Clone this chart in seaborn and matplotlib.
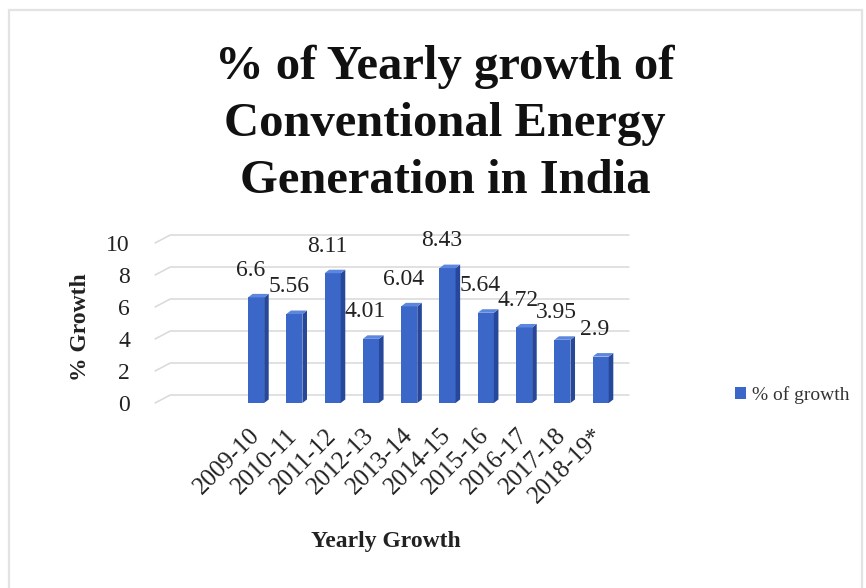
import matplotlib
matplotlib.use("Agg")
import matplotlib.pyplot as plt
from matplotlib.patches import Polygon, Patch, FancyBboxPatch
from matplotlib.lines import Line2D
import seaborn as sns
import pandas as pd

# Data
years = ["2009-10", "2010-11", "2011-12", "2012-13", "2013-14",
         "2014-15", "2015-16", "2016-17", "2017-18", "2018-19*"]
growth = [6.6, 5.56, 8.11, 4.01, 6.04, 8.43, 5.64, 4.72, 3.95, 2.9]
series_name = "% of growth"
y_ticks = [0, 2, 4, 6, 8, 10]

title_text = "% of Yearly growth of\nConventional Energy\nGeneration in India"
x_title = "Yearly Growth"
y_title = "% Growth"

# Colours for the column faces
front = "#3b67c9"
side = "#27489a"
top = "#5d86dd"
grid_col = "#d9d9d9"

sns.set_theme(style="white")
plt.rcParams["font.family"] = ["Liberation Serif", "DejaVu Serif"]

W, H = 866, 588
fig = plt.figure(figsize=(W / 100, H / 100), dpi=100)
fig.patch.set_facecolor("white")

# chart outline (open at the bottom)
fig.add_artist(FancyBboxPatch((9 / W, -0.05), 853 / W, (H - 10) / H + 0.05,
                              boxstyle="square,pad=0", transform=fig.transFigure,
                              facecolor="none", edgecolor="#e3e3e3", lw=1.6))

ax = fig.add_axes([155 / W, (H - 403) / H, 474 / W, 160 / H])
df = pd.DataFrame({"year": years, "growth": growth})
sns.barplot(data=df, x="year", y="growth", color=front, width=0.42,
            saturation=1, ax=ax, zorder=3, linewidth=0)

xl, xr = -2.64, 9.74
ax.set_xlim(xl, xr)
ax.set_ylim(0, 10)

# back-wall gridlines with the short perspective run at the left
slant_dx, lift = 0.4, 0.5
for t in y_ticks:
    ax.add_line(Line2D([xl, xl + slant_dx, xr], [t, t + lift, t + lift],
                       color=grid_col, lw=1.1, zorder=1, clip_on=False))

# side and top faces give the columns depth
dx, dy = 0.12, 0.22
for p in list(ax.patches):
    x0, w, h = p.get_x(), p.get_width(), p.get_height()
    ax.add_patch(Polygon([(x0 + w, 0), (x0 + w + dx, dy), (x0 + w + dx, h + dy), (x0 + w, h)],
                         closed=True, facecolor=side, edgecolor="none", zorder=3, clip_on=False))
    ax.add_patch(Polygon([(x0, h), (x0 + dx, h + dy), (x0 + w + dx, h + dy), (x0 + w, h)],
                         closed=True, facecolor=top, edgecolor="none", zorder=3, clip_on=False))

# value labels
for i, v in enumerate(growth):
    ax.text(i - 0.15, v + 1.7, f"{v:g}", ha="center", va="center",
            fontsize=17, color="#222222", zorder=5, clip_on=False)

for s in ax.spines.values():
    s.set_visible(False)
ax.set_facecolor("none")
ax.set_yticks(y_ticks)
ax.set_yticklabels([str(t) for t in y_ticks], fontsize=17, color="#222222")
ax.tick_params(axis="y", length=0, pad=18)
ax.tick_params(axis="x", length=0, pad=21)
ax.set_xticks(range(len(years)))
ax.set_xticklabels(years, rotation=45, ha="right", va="center",
                   rotation_mode="anchor", fontsize=18, color="#222222")
ax.set_xlabel("")
ax.set_ylabel("")

# titles
fig.text(445 / W, 1 - 45 / H, title_text, ha="center", va="top", fontsize=35,
         fontweight="bold", linespacing=1.38, color="#111111")
fig.text(386 / W, 1 - 541 / H, x_title, ha="center", va="center", fontsize=17,
         fontweight="bold", color="#222222")
fig.text(81 / W, 1 - 327 / H, y_title, ha="center", va="center", rotation=90,
         fontsize=17, fontweight="bold", color="#222222")

# legend
fig.legend(handles=[Patch(facecolor=front, edgecolor="none", label=series_name)],
           loc="center left", bbox_to_anchor=(735 / W, 1 - 395 / H), frameon=False,
           fontsize=14, handlelength=0.55, handleheight=0.55, handletextpad=0.3,
           borderpad=0, borderaxespad=0, labelcolor="#333333")

fig.savefig("out.png", dpi=100, facecolor="white")
